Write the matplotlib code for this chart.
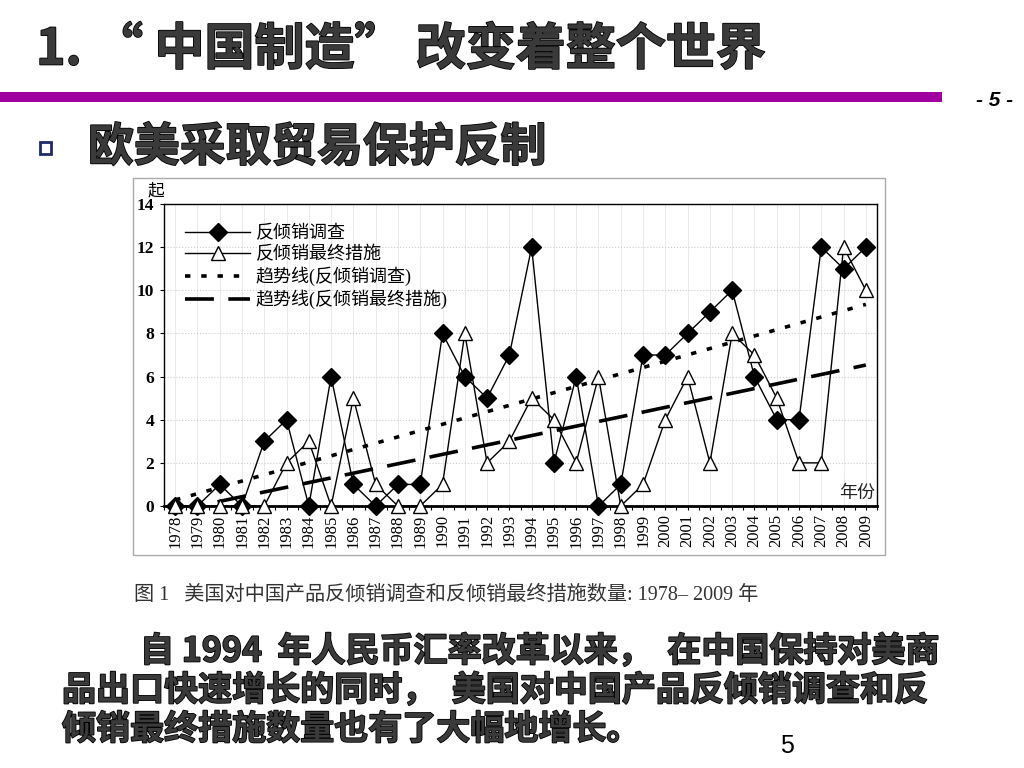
import numpy as np
import matplotlib.pyplot as plt
import matplotlib.patheffects as pe
from matplotlib.patches import Rectangle

plt.rcParams['font.family'] = ['Noto Sans CJK SC', 'DejaVu Sans']

# 数据：美国对中国产品反倾销调查和反倾销最终措施数量
years = list(range(1978, 2010))
investigations = [0, 0, 1, 0, 3, 4, 0, 6, 1, 0, 1, 1, 8, 6, 5, 7,
                  12, 2, 6, 0, 1, 7, 7, 8, 9, 10, 6, 4, 4, 12, 11, 12]
measures = [0, 0, 0, 0, 0, 2, 3, 0, 5, 1, 0, 0, 1, 8, 2, 3,
            5, 4, 2, 6, 0, 1, 4, 6, 2, 8, 7, 5, 2, 2, 12, 10]
labels = ["反倾销调查", "反倾销最终措施", "趋势线(反倾销调查)", "趋势线(反倾销最终措施)"]

W, H = 1024, 768
fig = plt.figure(figsize=(W / 100, H / 100), dpi=100)


def px(x, y):
    return x / W, 1 - y / H


serif = ['Liberation Serif', 'Noto Sans CJK SC']
emboss = [pe.Stroke(linewidth=1.2, foreground='black'), pe.Normal()]

# 标题与分隔条
fig.text(*px(36, 50), "1. “ 中国制造” 改变着整个世界", fontsize=36, fontweight='bold',
         color='#3a3a3a', va='center', ha='left', path_effects=emboss)
fig.patches.append(Rectangle(px(0, 102), 942 / W, 10 / H, transform=fig.transFigure,
                             facecolor='#a000a0', edgecolor='none'))
fig.text(*px(995, 101), "- 5 -", fontsize=15, fontweight='bold', fontstyle='italic',
         family=['Liberation Sans'], ha='center', va='center')

# 副标题
fig.patches.append(Rectangle(px(40, 154), 11 / W, 12 / H, transform=fig.transFigure,
                             facecolor='white', edgecolor='#1f2a6b', linewidth=2))
fig.text(*px(88, 148), "欧美采取贸易保护反制", fontsize=33, fontweight='bold',
         color='#3a3a3a', va='center', ha='left', path_effects=emboss)

# 图片边框
fig.patches.append(Rectangle(px(133, 555), (885 - 133) / W, (555 - 178) / H,
                             transform=fig.transFigure, facecolor='none',
                             edgecolor='#aaaaaa', linewidth=1))

ax = fig.add_axes([164 / W, 1 - 506 / H, (877 - 164) / W, (506 - 204) / H])

x = np.array(years)
inv = np.array(investigations)
mea = np.array(measures)

ax.plot(x, inv, color='black', lw=1, marker='D', markersize=9.5,
        markerfacecolor='black', markeredgecolor='black', clip_on=False,
        label=labels[0], zorder=4)
ax.plot(x, mea, color='black', lw=1, marker='^', markersize=10.5,
        markerfacecolor='white', markeredgecolor='black', clip_on=False,
        label=labels[1], zorder=5)

p1 = np.polyfit(x, inv, 1)
p2 = np.polyfit(x, mea, 1)
ax.plot(x, np.polyval(p1, x), color='black', lw=2.6, dashes=(1.5, 3),
        label=labels[2], zorder=3)
ax.plot(x, np.polyval(p2, x), color='black', lw=2.6, dashes=(8, 4),
        label=labels[3], zorder=3)

ax.set_xlim(1977.5, 2009.5)
ax.set_ylim(0, 14)
ax.set_yticks(range(0, 15, 2))
ax.set_xticks(years)
ax.set_xticks(np.arange(1977.5, 2010, 1), minor=True)
ax.set_xticklabels([str(y) for y in years], rotation=90, family=serif,
                   fontsize=12)
ax.set_yticklabels([str(v) for v in range(0, 15, 2)], family=serif,
                   fontsize=12.5, fontweight='bold')
ax.tick_params(axis='x', which='both', direction='out', length=3, width=0.8, pad=3)
ax.tick_params(axis='y', direction='out', length=3, width=0.8, pad=4)

ax.grid(axis='y', color='#cccccc', linestyle=':', linewidth=0.8)
ax.grid(axis='x', color='#e6e6e6', linestyle='-', linewidth=0.6)
ax.set_axisbelow(True)
for s in ax.spines.values():
    s.set_linewidth(1.0)
ax.spines['bottom'].set_linewidth(2)

leg = ax.legend(loc='upper left', bbox_to_anchor=(0.02, 0.955), frameon=False,
                handlelength=3.6, handletextpad=0.3, labelspacing=0.2,
                borderaxespad=0, prop={'family': serif, 'size': 13})

ax.text(0.0, 1.04, "起", transform=ax.transAxes, ha='right', va='center',
        family=serif, fontsize=12)
ax.text(0.998, 0.04, "年份", transform=ax.transAxes, ha='right', va='center',
        family=serif, fontsize=13, color='#222222')

# 图注
fig.text(*px(134, 595), "图 1   美国对中国产品反倾销调查和反倾销最终措施数量: 1978– 2009 年",
         family=serif, fontsize=14.5, color='#333333', va='center', ha='left')

# 正文
body = ["自 1994  年人民币汇率改革以来，  在中国保持对美商",
        "品出口快速增长的同时，  美国对中国产品反倾销调查和反",
        "倾销最终措施数量也有了大幅地增长。"]
fig.text(*px(140, 651), body[0], fontsize=24.5, fontweight='bold', color='#3a3a3a',
         va='center', ha='left', path_effects=emboss)
fig.text(*px(62, 690), body[1], fontsize=24.5, fontweight='bold', color='#3a3a3a',
         va='center', ha='left', path_effects=emboss)
fig.text(*px(62, 729), body[2], fontsize=24.5, fontweight='bold', color='#3a3a3a',
         va='center', ha='left', path_effects=emboss)
fig.text(*px(787, 746), "5", fontsize=18, family=['Liberation Sans'],
         va='center', ha='center')

fig.savefig("out.png", dpi=100, facecolor='white')
